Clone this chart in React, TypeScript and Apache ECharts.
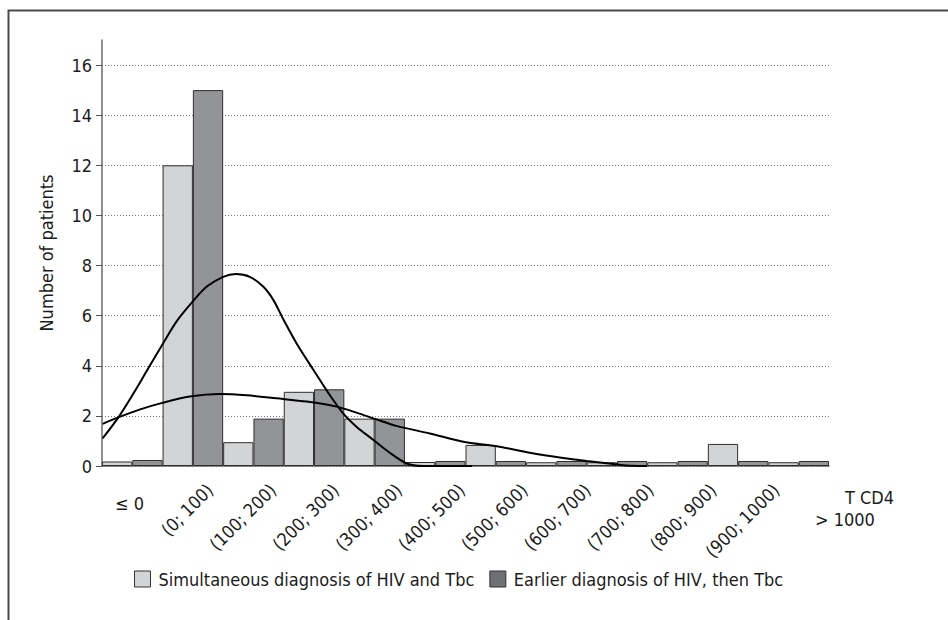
import React, { useEffect, useRef } from "react";
import * as echarts from "echarts";

const categories = ["≤ 0", "(0; 100)", "(100; 200)", "(200; 300)", "(300; 400)", "(400; 500)", "(500; 600)", "(600; 700)", "(700; 800)", "(800; 900)", "(900; 1000)", "> 1000"];
const simultaneousValues = [0.18, 12, 0.95, 2.96, 1.89, 0.16, 0.84, 0.15, 0.15, 0.15, 0.88, 0.15];
const earlierValues = [0.24, 15, 1.89, 3.06, 1.89, 0.2, 0.2, 0.2, 0.2, 0.2, 0.2, 0.2];

// fitted curves, x in T CD4 units (bins are 100 wide, "≤ 0" spans -100..0)
const curveAX = [-99, -73, -48, -26, -1.5, 24, 51, 73, 100, 121, 144, 166, 183, 199, 221, 248, 274, 298, 320, 348, 375, 403, 430, 511];
const curveAY = [1.1, 1.94, 2.9, 3.8, 4.8, 5.8, 6.6, 7.16, 7.55, 7.66, 7.55, 7.16, 6.62, 5.87, 4.9, 3.87, 2.9, 2.1, 1.57, 1.04, 0.53, 0.1, 0, 0];
const curveBX = [-99, -73, -37, 1, 45, 95, 139, 188, 238, 287, 320, 353, 386, 441, 501, 552, 606, 661, 700, 744, 765, 800];
const curveBY = [1.68, 1.94, 2.26, 2.53, 2.77, 2.87, 2.82, 2.7, 2.57, 2.37, 2.13, 1.86, 1.6, 1.3, 0.95, 0.79, 0.53, 0.32, 0.2, 0.08, 0.02, 0];

const yTicks = [0, 2, 4, 6, 8, 10, 12, 14, 16];
const seriesNames = ["Simultaneous diagnosis of HIV and Tbc", "Earlier diagnosis of HIV, then Tbc"];
const rotatedLabels = categories.slice(1, 11);

const FONT = "'Liberation Sans Narrow', 'DejaVu Sans Condensed', sans-serif";

export default function App() {
  const ref = useRef<HTMLDivElement>(null);
  useEffect(() => {
    document.body.style.margin = "0";
    if (!ref.current) return;
    const chart = echarts.init(ref.current, null, { renderer: "svg" });
    const textColor = "#1c1c1c";
    chart.setOption({
      animation: false,
      backgroundColor: "#ffffff",
      textStyle: { fontFamily: FONT },
      grid: [
        { left: 102, right: 119, top: 40, height: 426 },
        { left: 147, right: 109, top: 40, height: 426 },
      ],
      legend: {
        left: 134,
        top: 570,
        padding: 0,
        itemWidth: 16,
        itemHeight: 16,
        itemGap: 15,
        icon: "rect",
        textStyle: { fontFamily: FONT, fontSize: 18, color: textColor, padding: [0, 0, 0, 3] },
        data: [
          { name: seriesNames[0], itemStyle: { color: "#d3d4d6", borderColor: "#333", borderWidth: 1 } },
          { name: seriesNames[1], itemStyle: { color: "#6f7073", borderColor: "#333", borderWidth: 1 } },
        ],
      },
      xAxis: [
        {
          type: "category",
          gridIndex: 0,
          data: categories,
          axisLine: { show: true, lineStyle: { color: "#6a6a6a", width: 1.5 } },
          axisTick: { show: false },
          axisLabel: { show: false },
          name: "T CD4",
          nameLocation: "end",
          nameGap: 16,
          nameTextStyle: { fontFamily: FONT, fontSize: 18, color: textColor, verticalAlign: "top", padding: [22, 0, 0, 0] },
        },
        {
          type: "value",
          gridIndex: 0,
          min: -100,
          max: 1100,
          show: false,
        },
        {
          type: "value",
          gridIndex: 1,
          min: 0,
          max: 11,
          interval: 1,
          axisLine: { show: false },
          axisTick: { show: false },
          splitLine: { show: false },
          axisLabel: {
            rotate: 45,
            margin: 21,
            fontFamily: FONT,
            fontSize: 18,
            color: textColor,
            formatter: (v: number) => (v >= 1 && v <= 10 ? rotatedLabels[v - 1] : ""),
          },
        },
      ],
      yAxis: [
        {
          type: "value",
          gridIndex: 0,
          min: 0,
          max: 17,
          interval: 2,
          name: "Number of patients",
          nameLocation: "middle",
          nameGap: 47,
          nameTextStyle: { fontFamily: FONT, fontSize: 18, color: textColor },
          axisLine: { show: true, onZero: false, lineStyle: { color: "#6a6a6a", width: 1.5 } },
          axisTick: { show: true, length: 6, customValues: yTicks, lineStyle: { color: "#555" } },
          axisLabel: { fontFamily: FONT, fontSize: 18, color: textColor, margin: 10, customValues: yTicks },
          splitLine: { show: true, lineStyle: { color: "#7a7a7a", type: [1, 2], width: 1 } },
        },
        { type: "value", gridIndex: 1, show: false, min: 0, max: 17 },
      ],
      series: [
        {
          name: seriesNames[0],
          type: "bar",
          xAxisIndex: 0,
          yAxisIndex: 0,
          data: simultaneousValues,
          barGap: "0%",
          barCategoryGap: "0%",
          itemStyle: { color: "#d3d4d6", borderColor: "#2e2e2e", borderWidth: 1 },
        },
        {
          name: seriesNames[1],
          type: "bar",
          xAxisIndex: 0,
          yAxisIndex: 0,
          data: earlierValues,
          barGap: "0%",
          barCategoryGap: "0%",
          itemStyle: { color: "#939498", borderColor: "#2e2e2e", borderWidth: 1 },
        },
        {
          name: "curveA",
          type: "line",
          xAxisIndex: 1,
          yAxisIndex: 0,
          data: curveAX.map((x, i) => [x, curveAY[i]]),
          smooth: 0.3,
          showSymbol: false,
          z: 5,
          lineStyle: { color: "#000", width: 2 },
        },
        {
          name: "curveB",
          type: "line",
          xAxisIndex: 1,
          yAxisIndex: 0,
          data: curveBX.map((x, i) => [x, curveBY[i]]),
          smooth: 0.3,
          showSymbol: false,
          z: 5,
          lineStyle: { color: "#000", width: 2 },
        },
      ],
      graphic: [
        {
          type: "polyline",
          shape: { points: [[8.5, 620], [8.5, 10.5], [948, 10.5]] },
          style: { stroke: "#4a4a4a", lineWidth: 2, fill: "none" },
          silent: true,
        },
        {
          type: "text",
          left: 115,
          top: 494,
          style: { text: categories[0], font: `18px ${FONT}`, fill: textColor },
        },
        {
          type: "text",
          left: 815,
          top: 510,
          style: { text: categories[11], font: `18px ${FONT}`, fill: textColor },
        },
      ],
    });
    return () => chart.dispose();
  }, []);
  return <div ref={ref} style={{ width: 948, height: 620 }} />;
}
